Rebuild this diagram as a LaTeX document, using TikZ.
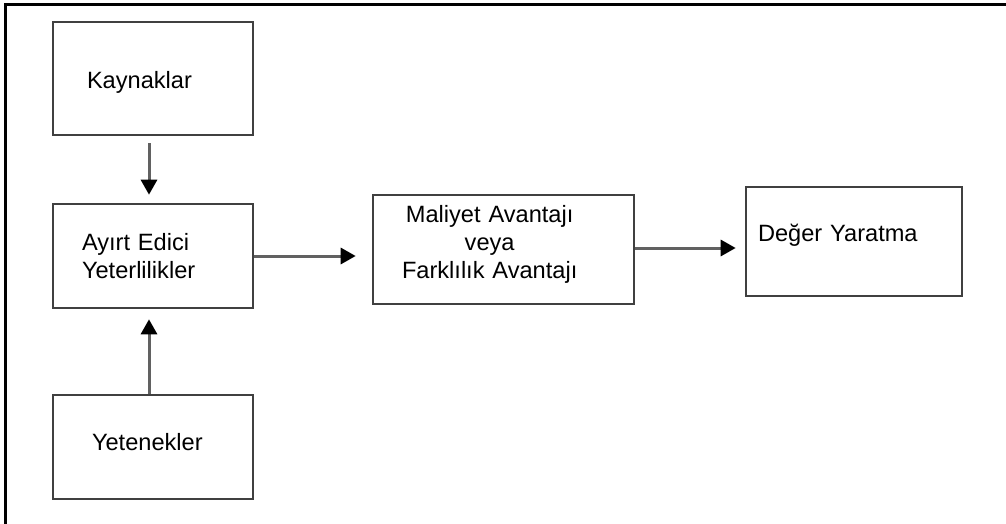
\documentclass[tikz,border=0pt]{standalone}
\usepackage{fontspec}
\setmainfont{Liberation Sans}
\usetikzlibrary{arrows.meta}
\begin{document}
\begin{tikzpicture}[x=0.5pt,y=-0.5pt,
  kutu/.style={draw=black!75,line width=1.3pt,fill=white,align=left,
    font=\fontsize{11.8}{14}\selectfont,inner ysep=0pt},
  ok/.style={draw=black!62,line width=1.5pt,
    -{Triangle[length=7.5pt,width=8pt,color=black]}}]
\useasboundingbox (0,0) rectangle (1006,524);
%frame
\draw[line width=1.5pt] (5,524) -- (5,5) -- (1006,5);
%boxes
\node[kutu,text width=66pt,inner xsep=17pt,minimum height=56.5pt,
  text height=12.1pt,text depth=2.5pt] (kay) at (153,78.5) {Kaynaklar};
\node[kutu,text width=71pt,inner xsep=14.5pt,minimum height=52pt] (ayirt) at (153,256)
  {Ayırt Edici\\Yeterlilikler};
\node[kutu,text width=61pt,inner xsep=19.5pt,minimum height=52pt,
  text height=8.6pt,text depth=5pt] (yet) at (153,447) {Yetenekler};
\node[kutu,text width=101.5pt,inner xsep=14.5pt,minimum height=54.5pt,
  text height=9.8pt,text depth=36.4pt] (mal) at (503.5,249.5)
  {\begin{tabular}[t]{@{}c@{}}Maliyet Avantajı\\veya\\Farklılık Avantajı\end{tabular}};
\node[kutu,text width=96pt,inner xsep=6pt,minimum height=54.5pt,
  text height=8.8pt,text depth=8.8pt] (deger) at (854,241.5) {Değer Yaratma};
%arrows
\draw[ok,shorten <=3.5pt,shorten >=4pt] ([xshift=-2pt]kay.south) -- ([xshift=-2pt]ayirt.north);
\draw[ok,shorten >=5pt] ([xshift=-2pt]yet.north) -- ([xshift=-2pt]ayirt.south);
\draw[ok,shorten >=8pt] (ayirt.east) -- (ayirt.east -| mal.west);
\draw[ok,shorten >=4.5pt] ([yshift=0.75pt]mal.east) -- ([yshift=0.75pt]mal.east -| deger.west);
\end{tikzpicture}
\end{document}
